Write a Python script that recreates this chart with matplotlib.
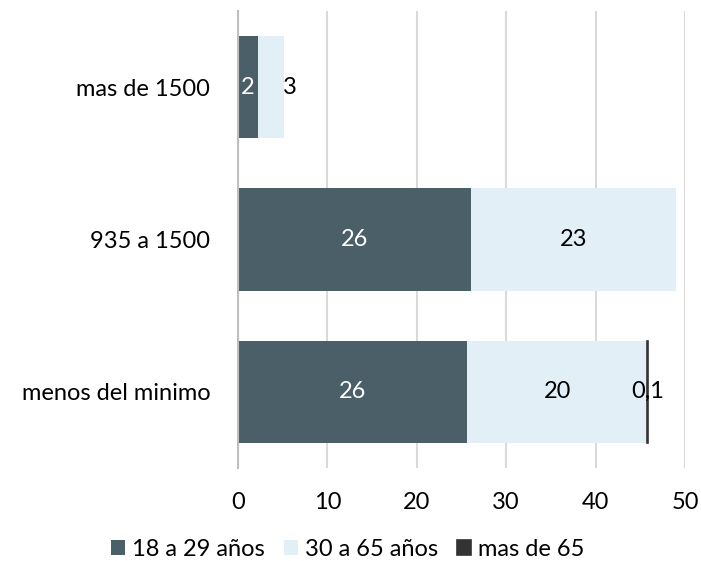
import matplotlib
matplotlib.use("Agg")
import matplotlib.pyplot as plt

### DATA
categories = ["menos del minimo", "935 a 1500", "mas de 1500"]
series_names = ["18 a 29 años", "30 a 65 años", "mas de 65"]
jovenes = [25.6, 26.1, 2.2]       # 18 a 29 años
adultos = [20.2, 22.9, 2.9]       # 30 a 65 años
mayores = [0.1, 0.0, 0.0]         # mas de 65
labels_jovenes = ["26", "26", "2"]
labels_adultos = ["20", "23", "3"]
labels_mayores = ["0,1", "", ""]
xticks = [0, 10, 20, 30, 40, 50]

### STYLE
colors = ["#4b5f69", "#e3eff7", "#333333"]
plt.rcParams["font.family"] = ["Lato", "DejaVu Sans"]

fig = plt.figure(figsize=(7.01, 5.61), dpi=100)
ax = fig.add_axes([238 / 701, 1 - 468 / 561, (685 - 238) / 701, (468 - 11) / 561])

y = range(len(categories))
h = 0.67
b1 = ax.barh(y, jovenes, height=h, color=colors[0], label=series_names[0], zorder=2)
b2 = ax.barh(y, adultos, left=jovenes, height=h, color=colors[1], label=series_names[1], zorder=2)
left3 = [a + b for a, b in zip(jovenes, adultos)]
edge3 = [colors[2] if v > 0 else "none" for v in mayores]
b3 = ax.barh(y, mayores, left=left3, height=h, color=colors[2], edgecolor=edge3,
             linewidth=1.2, label=series_names[2], zorder=3)

fs = 17
for i in y:
    ax.text(jovenes[i] / 2, i, labels_jovenes[i], ha="center", va="center",
            color="white", fontsize=fs, zorder=4)
    if adultos[i] < 4:
        # narrow segment: label sits just past the bar end
        ax.text(left3[i] - 0.1, i, labels_adultos[i], ha="left", va="center",
                color="black", fontsize=fs, zorder=4)
    else:
        ax.text(jovenes[i] + adultos[i] / 2, i, labels_adultos[i], ha="center",
                va="center", color="black", fontsize=fs, zorder=4)
    if labels_mayores[i]:
        ax.text(left3[i] + mayores[i] / 2, i, labels_mayores[i], ha="center",
                va="center", color="black", fontsize=fs, zorder=4)

ax.set_xlim(0, 50)
ax.set_ylim(-0.5, 2.5)
ax.set_xticks(xticks)
ax.set_xticklabels([str(t) for t in xticks], fontsize=fs)
ax.set_yticks(list(y))
ax.set_yticklabels(categories, fontsize=fs)
ax.tick_params(axis="both", length=0, colors="black")
ax.tick_params(axis="y", pad=20)
ax.tick_params(axis="x", pad=17)
ax.grid(axis="x", color="#d9d9d9", linewidth=1.5, zorder=0)
for s in ["top", "right", "bottom"]:
    ax.spines[s].set_visible(False)
ax.spines["left"].set_color("#bfbfbf")
ax.spines["left"].set_linewidth(1.5)
ax.spines["left"].set_zorder(5)

fig.legend(handles=[b1, b2, b3], labels=series_names, loc="center",
           bbox_to_anchor=(0.496, 0.02), ncol=3, frameon=False, fontsize=fs,
           handlelength=0.6, handleheight=0.6, handletextpad=0.3,
           columnspacing=0.8)

fig.savefig("out.png", dpi=100)
